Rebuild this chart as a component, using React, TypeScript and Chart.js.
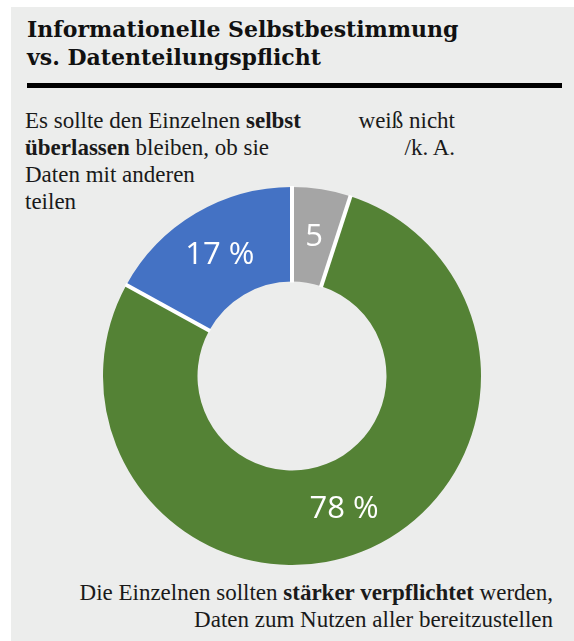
import React, { useEffect, useRef } from "react";
import { Chart, registerables } from "chart.js";

Chart.register(...registerables);

const categories = ["weiß nicht /k. A.", "stärker verpflichtet", "selbst überlassen"];
const values = [5, 78, 17];
const valueLabels = ["5", "78 %", "17 %"];
const colors = ["#a5a5a5", "#548235", "#4472c4"];

const titleLines = ["Informationelle Selbstbestimmung", "vs. Datenteilungspflicht"];

const separatorPlugin = {
  id: "separators",
  afterDatasetsDraw(chart: any) {
    const meta = chart.getDatasetMeta(0);
    const ctx = chart.ctx;
    ctx.save();
    ctx.strokeStyle = "#ffffff";
    ctx.lineWidth = 4;
    ctx.lineCap = "butt";
    meta.data.forEach((arc: any) => {
      const { x, y, startAngle, innerRadius, outerRadius } = arc.getProps(
        ["x", "y", "startAngle", "innerRadius", "outerRadius"],
        true
      );
      ctx.beginPath();
      ctx.moveTo(x + Math.cos(startAngle) * (innerRadius - 1), y + Math.sin(startAngle) * (innerRadius - 1));
      ctx.lineTo(x + Math.cos(startAngle) * (outerRadius + 1), y + Math.sin(startAngle) * (outerRadius + 1));
      ctx.stroke();
    });
    ctx.fillStyle = "#ffffff";
    ctx.font = '31px "Open Sans", "Noto Sans", sans-serif';
    ctx.textAlign = "center";
    ctx.textBaseline = "middle";
    meta.data.forEach((arc: any, i: number) => {
      const p = arc.tooltipPosition(true);
      ctx.fillText(valueLabels[i], p.x, p.y + 1);
    });
    ctx.restore();
  },
};

export default function App() {
  const canvasRef = useRef<HTMLCanvasElement | null>(null);

  useEffect(() => {
    document.body.style.margin = "0";
    const chart = new Chart(canvasRef.current as HTMLCanvasElement, {
      type: "doughnut",
      data: {
        labels: categories,
        datasets: [
          {
            data: values,
            backgroundColor: colors,
            borderWidth: 0,
          },
        ],
      },
      options: {
        responsive: false,
        animation: false,
        cutout: "50%",
        layout: { padding: 11 },
        plugins: {
          legend: { display: false },
          tooltip: { enabled: false },
        },
      },
      plugins: [separatorPlugin],
    });
    return () => chart.destroy();
  }, []);

  const serif = '"Liberation Serif", "Times New Roman", serif';
  const bodyStyle: React.CSSProperties = {
    position: "absolute",
    fontFamily: serif,
    fontSize: 23,
    lineHeight: "27px",
    color: "#1a1a1a",
    whiteSpace: "nowrap",
  };

  return (
    <div style={{ position: "relative", width: 574, height: 641, background: "#ffffff", overflow: "hidden" }}>
      <div style={{ position: "absolute", left: 11, top: 7, width: 563, height: 634, background: "#ecedec" }} />
      <div
        style={{
          position: "absolute",
          left: 27,
          top: 15,
          fontFamily: '"DejaVu Serif", serif',
          fontWeight: "bold",
          fontSize: 22,
          lineHeight: "28px",
          color: "#111",
          whiteSpace: "nowrap",
        }}
      >
        {titleLines.map((t, i) => (
          <div key={i}>{t}</div>
        ))}
      </div>
      <div style={{ position: "absolute", left: 27, top: 83, width: 535, height: 5, background: "#000" }} />
      <div style={{ ...bodyStyle, left: 25, top: 107 }}>
        <div>
          Es sollte den Einzelnen <b>selbst</b>
        </div>
        <div>
          <b>überlassen</b> bleiben, ob sie
        </div>
        <div>Daten mit anderen</div>
        <div>teilen</div>
      </div>
      <div style={{ ...bodyStyle, right: 119, top: 107, textAlign: "right" }}>
        <div>weiß nicht</div>
        <div>/k. A.</div>
      </div>
      <canvas
        ref={canvasRef}
        width={400}
        height={400}
        style={{ position: "absolute", left: 92, top: 176, width: 400, height: 400 }}
      />
      <div style={{ ...bodyStyle, right: 21, top: 579, textAlign: "right" }}>
        <div>
          Die Einzelnen sollten <b>stärker verpflichtet</b> werden,
        </div>
        <div>Daten zum Nutzen aller bereitzustellen</div>
      </div>
    </div>
  );
}
